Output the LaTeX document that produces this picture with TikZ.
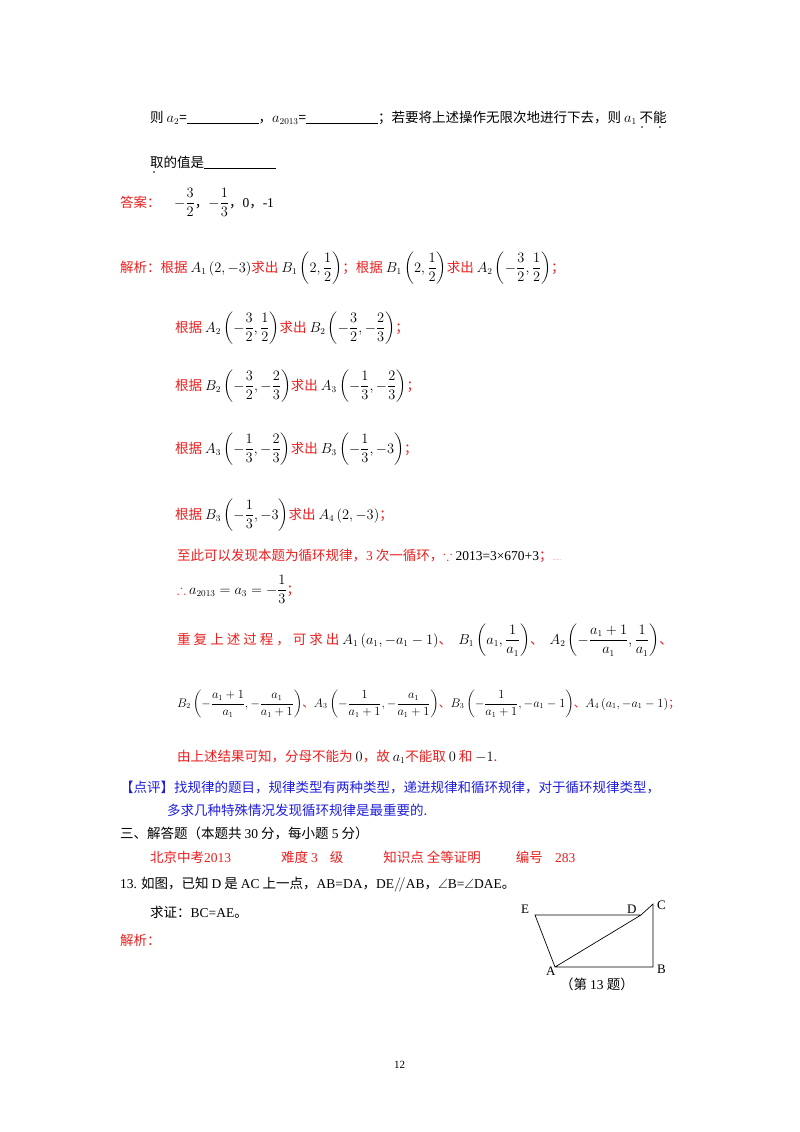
\documentclass[tikz,border=0pt]{standalone}
\usepackage{amsmath,amssymb}
\usepackage{fontspec}
\setmainfont{Noto Sans CJK SC}
\newfontfamily\tm{Liberation Serif}
\definecolor{rd}{RGB}{235,30,30}
\definecolor{bl}{RGB}{30,30,220}
\begin{document}
\begin{tikzpicture}[x=1pt,y=-1pt,
  t/.style={anchor=base west,inner sep=0pt,font=\fontsize{13.5}{16}\selectfont},
  r/.style={t,text=rd},
  b/.style={t,text=bl}]
\useasboundingbox (0,0) rectangle (800,1132);
\def\bl{\rule[-2pt]{72pt}{0.6pt}}
\node[t] (l1) at (150,122) {则 $a_2$={\bl}，$a_{2013}$={\bl}；若要将上述操作无限次地进行下去，则 $a_1$ 不能};
\fill (642,127) circle (0.9) (660,127) circle (0.9) (154,172) circle (0.9);
\node[t] (l2) at (150,167) {取的值是{\bl}};
\node[r] (ans) at (120,207) {答案：\quad {\color{black}$-\dfrac32$，$-\dfrac13$，{\tm 0}，{\tm -1}}};
\node[r] (j1) at (120,272) {解析：根据 {\color{black}$A_1\left(2,-3\right)$}求出 {\color{black}$B_1\left(2,\dfrac12\right)$}；根据 {\color{black}$B_1\left(2,\dfrac12\right)$}求出 {\color{black}$A_2\left(-\dfrac32,\dfrac12\right)$}；};
\node[r] (j2) at (175,332) {根据 {\color{black}$A_2\left(-\dfrac32,\dfrac12\right)$}求出 {\color{black}$B_2\left(-\dfrac32,-\dfrac23\right)$}；};
\node[r] (j3) at (175,390) {根据 {\color{black}$B_2\left(-\dfrac32,-\dfrac23\right)$}求出 {\color{black}$A_3\left(-\dfrac13,-\dfrac23\right)$}；};
\node[r] (j4) at (175,453) {根据 {\color{black}$A_3\left(-\dfrac13,-\dfrac23\right)$}求出 {\color{black}$B_3\left(-\dfrac13,-3\right)$}；};
\node[r] (j5) at (175,519) {根据 {\color{black}$B_3\left(-\dfrac13,-3\right)$}求出 {\color{black}$A_4\left(2,-3\right)$}；};
\node[r] (j6) at (177,560) {至此可以发现本题为循环规律，{\tm 3} 次一循环，$\because$ {\color{black}\tm 2013=3×670+3}；{\tiny ......}};
\node[r] (j7) at (177,594) {$\therefore$ {\color{black}$a_{2013}=a_3=-\dfrac13$}；};
\node[r] (j8) at (177,644) {重 复 上 述 过 程 ， 可 求 出 {\color{black}$A_1\left(a_1,-a_1-1\right)$}、\ \ {\color{black}$B_1\left(a_1,\dfrac1{a_1}\right)$}、\ \ {\color{black}$A_2\left(-\dfrac{a_1+1}{a_1},\dfrac1{a_1}\right)$}、};
\node[r] (j9) at (177,707) {\scalebox{0.86}{{\color{black}$B_2\left(-\dfrac{a_1+1}{a_1},-\dfrac{a_1}{a_1+1}\right)$}、{\color{black}$A_3\left(-\dfrac1{a_1+1},-\dfrac{a_1}{a_1+1}\right)$}、{\color{black}$B_3\left(-\dfrac1{a_1+1},-a_1-1\right)$}、{\color{black}$A_4\left(a_1,-a_1-1\right)$}；}};
\node[r] (j10) at (177,761) {由上述结果可知，分母不能为 {\color{black}$0$}，故 {\color{black}$a_1$}不能取 {\color{black}$0$} 和 {\color{black}$-1$}.};
\node[b] (d1) at (120,792) {【点评】找规律的题目，规律类型有两种类型，递进规律和循环规律，对于循环规律类型，};
\node[b] (d2) at (167,815) {多求几种特殊情况发现循环规律是最重要的.};
\node[t] (s3) at (120,838) {三、解答题（本题共 {\tm 30} 分，每小题 {\tm 5} 分）};
\node[r] (bj) at (150,862) {北京中考{\tm 2013}\hspace{50pt}难度 {\tm 3}\hspace{12pt}级\hspace{40pt}知识点 全等证明\hspace{35pt}编号\hspace{12pt}{\tm 283}};
\node[t] (q13) at (120,888) {{\tm 13.} 如图，已知 {\tm D} 是 {\tm AC} 上一点，{\tm AB=DA}，{\tm DE}$/\!/${\tm AB}，$\angle${\tm B=}$\angle${\tm DAE}。};
\node[t] (qz) at (150,917) {求证：{\tm BC=AE}。};
\node[r] (jx) at (120,945) {解析：};
\coordinate (E) at (535,915);
\coordinate (D) at (641,915);
\coordinate (C) at (653,904);
\coordinate (A) at (555,967);
\coordinate (B) at (653,967);
\draw[line width=0.7pt] (E)--(D)--(C)--(B)--(A)--cycle (A)--(D);
\node[t,font=\tm\fontsize{13}{15}\selectfont] (lE) at (521,913) {E};
\node[t,font=\tm\fontsize{13}{15}\selectfont] (lD) at (627,913) {D};
\node[t,font=\tm\fontsize{13}{15}\selectfont] (lC) at (657,909) {C};
\node[t,font=\tm\fontsize{13}{15}\selectfont] (lA) at (546,975) {A};
\node[t,font=\tm\fontsize{13}{15}\selectfont] (lB) at (657,973) {B};
\node[t] (cap) at (560,989) {（第 {\tm 13} 题）};
\node[t,font=\tm\fontsize{11}{13}\selectfont] (pg) at (394,1068) {12};
\end{tikzpicture}
\end{document}
